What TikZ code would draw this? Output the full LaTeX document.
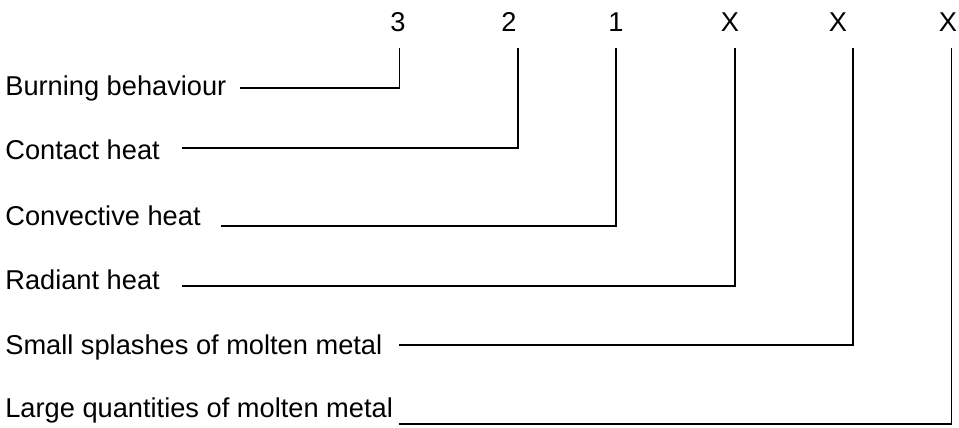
\documentclass[tikz,border=0pt]{standalone}
\usepackage{fontspec}
\setmainfont{Liberation Sans}

\begin{document}
\begin{tikzpicture}[x=0.02cm, y=0.02cm]
\tikzstyle{every node}+=[inner sep=0pt, font=\fontsize{15.5}{18}\selectfont]
\tikzstyle{lab}=[anchor=base west]
\tikzstyle{num}=[anchor=base]
\tikzstyle{wire}=[black, line width=0.85pt]
\useasboundingbox (0,0) rectangle (959,-428);
\node [num] (n3) at (398,-32) {3};
\node [num] (n2) at (509,-32) {2};
\node [num] (n1) at (616,-32) {1};
\node [num] (xa) at (730,-32) {X};
\node [num] (xb) at (838,-32) {X};
\node [num] (xc) at (948,-32) {X};
\node [lab] (burn) at (5,-96) {Burning behaviour};
\node [lab] (cont) at (5,-160) {Contact heat};
\node [lab] (conv) at (5,-226) {Convective heat};
\node [lab] (rad) at (5,-290) {Radiant heat};
\node [lab] (small) at (5,-355) {Small splashes of molten metal};
\node [lab] (large) at (5,-418) {Large quantities of molten metal};
\coordinate (t3) at (399.5,-48);
\coordinate (t2) at (518,-48);
\coordinate (t1) at (616,-48);
\coordinate (ta) at (735,-48);
\coordinate (tb) at (853,-48);
\coordinate (tc) at (951.5,-48);
\coordinate (s3) at (240,-88);
\coordinate (s2) at (182,-148);
\coordinate (s1) at (221,-226);
\coordinate (sa) at (182,-286);
\coordinate (sb) at (399,-345);
\coordinate (sc) at (399,-424);
\draw [wire] (s3) -| (t3);
\draw [wire] (s2) -| (t2);
\draw [wire] (s1) -| (t1);
\draw [wire] (sa) -| (ta);
\draw [wire] (sb) -| (tb);
\draw [wire] (sc) -| (tc);
\end{tikzpicture}
\end{document}
